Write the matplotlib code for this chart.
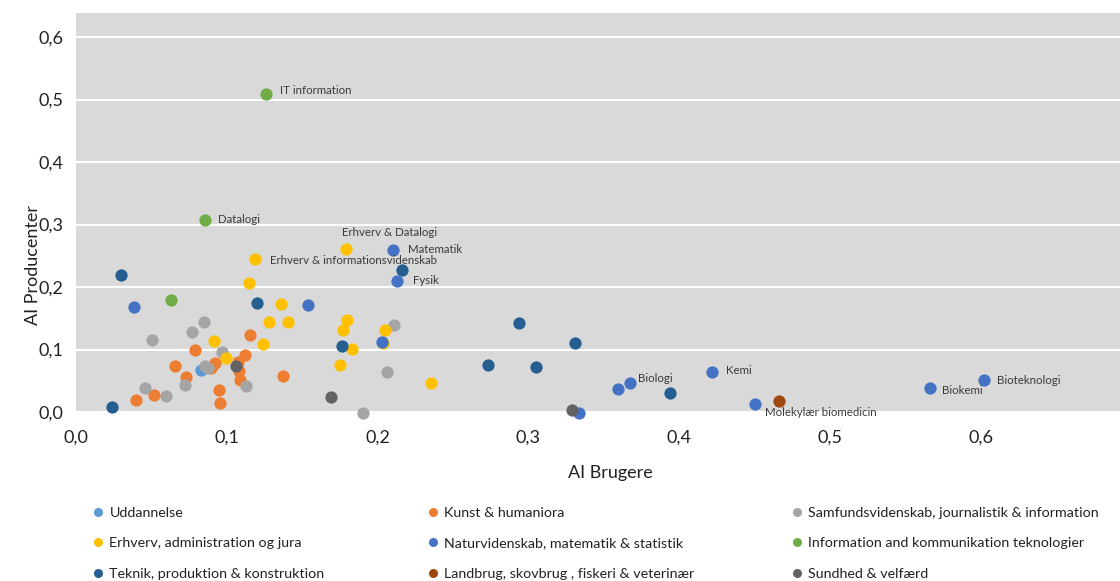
import matplotlib
matplotlib.use("Agg")
import matplotlib.pyplot as plt
from matplotlib.lines import Line2D

plt.rcParams['font.family'] = ['Lato', 'DejaVu Sans']

# categories (legend order, row by row)
categories = [
    "Uddannelse",
    "Kunst & humaniora",
    "Samfundsvidenskab, journalistik & information",
    "Erhverv, administration og jura",
    "Naturvidenskab, matematik & statistik",
    "Information and kommunikation teknologier",
    "Teknik, produktion & konstruktion",
    "Landbrug, skovbrug , fiskeri & veterinær",
    "Sundhed & velfærd",
]
colors = ["#5B9BD5", "#ED7D31", "#A5A5A5", "#FFC000", "#4472C4",
          "#70AD47", "#255E91", "#9E480E", "#636363"]

udd_x = [0.083]
udd_y = [0.067]

kunst_x = [0.040, 0.0515, 0.0656, 0.0727, 0.0787, 0.0948, 0.0953, 0.0922, 0.0893,
           0.1119, 0.1074, 0.108, 0.109, 0.1156, 0.1373]
kunst_y = [0.020, 0.027, 0.074, 0.056, 0.100, 0.036, 0.014, 0.079, 0.070,
           0.092, 0.080, 0.066, 0.051, 0.123, 0.057]

samf_x = [0.0504, 0.0769, 0.0847, 0.097, 0.0855, 0.0875, 0.0458, 0.0599, 0.0723,
          0.1125, 0.211, 0.206, 0.190]
samf_y = [0.116, 0.128, 0.1445, 0.0955, 0.074, 0.071, 0.039, 0.026, 0.044,
          0.042, 0.139, 0.064, -0.002]

erhv_x = [0.179, 0.1185, 0.1147, 0.1362, 0.1277, 0.1408, 0.1242, 0.0913, 0.0993,
          0.1795, 0.177, 0.183, 0.1753, 0.2049, 0.2036, 0.2356]
erhv_y = [0.2613, 0.2443, 0.207, 0.173, 0.144, 0.144, 0.109, 0.114, 0.0864,
          0.147, 0.131, 0.101, 0.0757, 0.1317, 0.110, 0.046]

natur_x = [0.0385, 0.154, 0.210, 0.2127, 0.2027, 0.3676, 0.3592, 0.3336, 0.4215,
           0.450, 0.566, 0.602]
natur_y = [0.168, 0.172, 0.260, 0.210, 0.1115, 0.0464, 0.0373, -0.001, 0.0645,
           0.0128, 0.039, 0.051]

ikt_x = [0.126, 0.0855, 0.063]
ikt_y = [0.509, 0.307, 0.179]

tek_x = [0.030, 0.0237, 0.120, 0.216, 0.1764, 0.294, 0.331, 0.273, 0.305, 0.394]
tek_y = [0.220, 0.008, 0.175, 0.227, 0.106, 0.142, 0.110, 0.076, 0.0725, 0.030]

land_x = [0.466]
land_y = [0.0176]

sund_x = [0.1059, 0.1693, 0.329]
sund_y = [0.073, 0.0245, 0.004]

series_x = [udd_x, kunst_x, samf_x, erhv_x, natur_x, ikt_x, tek_x, land_x, sund_x]
series_y = [udd_y, kunst_y, samf_y, erhv_y, natur_y, ikt_y, tek_y, land_y, sund_y]

# labelled points: (series index, point index, text)
point_labels = [
    (5, 0, "IT information"),
    (5, 1, "Datalogi"),
    (3, 0, "Erhverv & Datalogi"),
    (4, 2, "Matematik"),
    (3, 1, "Erhverv & informationsvidenskab"),
    (4, 3, "Fysik"),
    (4, 5, "Biologi"),
    (4, 7, "Farmaceutisk Videnskab"),
    (4, 8, "Kemi"),
    (4, 9, "Molekylær biomedicin"),
    (4, 10, "Biokemi"),
    (4, 11, "Bioteknologi"),
]
label_offsets = [(14, 3), (13, 1), (-4, 16), (15, 0), (15, -1), (16, 0),
                 (8, 5), (15, 0), (14, 1), (10, -8), (12, -3), (13, 0)]

xticks = [0.0, 0.1, 0.2, 0.3, 0.4, 0.5, 0.6]
yticks = [0.0, 0.1, 0.2, 0.3, 0.4, 0.5, 0.6]

W, H = 1120, 581
fig = plt.figure(figsize=(W / 100, H / 100), dpi=100)
ax = fig.add_axes([76 / W, 1 - 412 / H, 1 - 76 / W, (412 - 13) / H])
ax.set_facecolor("#D9D9D9")

for xs, ys, c in zip(series_x, series_y, colors):
    ax.scatter(xs, ys, s=78, color=c, linewidths=0, zorder=3, clip_on=False)

for (si, pi, txt), (dx, dy) in zip(point_labels, label_offsets):
    ax.annotate(txt, (series_x[si][pi], series_y[si][pi]), xytext=(dx, dy),
                textcoords="offset pixels", ha="left", va="center",
                fontsize=8.3, color="#3A3A3A", zorder=4)

ax.set_xlim(0, (W - 76) / 1508)
ax.set_ylim(0, (412 - 13) / 625)
ax.set_xticks(xticks)
ax.set_yticks(yticks)
ax.set_xticklabels([f"{v:.1f}".replace(".", ",") for v in xticks])
ax.set_yticklabels([f"{v:.1f}".replace(".", ",") for v in yticks])
ax.tick_params(length=0, labelsize=13, colors="#222222")
ax.tick_params(axis="x", pad=13)
ax.tick_params(axis="y", pad=9)
ax.grid(axis="y", color="white", linewidth=1.5)
ax.set_axisbelow(True)
for sp in ax.spines.values():
    sp.set_visible(False)

ax.set_xlabel("AI Brugere", fontsize=13, color="#222222")
ax.set_ylabel("AI Producenter", fontsize=13, color="#222222")
ax.xaxis.set_label_coords(0.5115, -0.133)
ax.yaxis.set_label_coords(-0.034, 0.368)

# legend: three columns placed by hand
col_x = [98, 433, 797]
for col in range(3):
    idx = [col, col + 3, col + 6]
    handles = [Line2D([], [], marker="o", linestyle="none", markersize=6.5,
                      markerfacecolor=colors[i], markeredgewidth=0) for i in idx]
    fig.legend(handles, [categories[i] for i in idx], loc="upper left",
               bbox_to_anchor=((col_x[col] - 7.1) / W, 1 - 506.5 / H),
               bbox_transform=fig.transFigure, frameon=False, borderpad=0,
               borderaxespad=0, handlelength=1, handletextpad=0.3,
               labelspacing=1.32, fontsize=10.3, labelcolor="#222222")

fig.savefig("out.png", dpi=100)
